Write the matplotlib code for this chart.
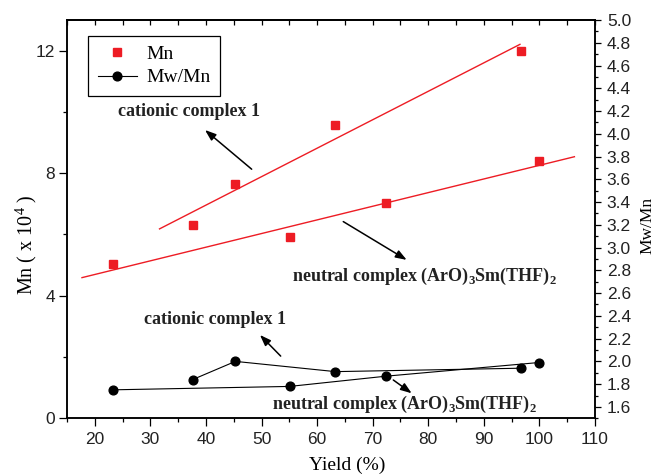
import numpy as np
import matplotlib
matplotlib.use("Agg")
import matplotlib.pyplot as plt
from matplotlib.ticker import MultipleLocator, FormatStrFormatter

plt.rcParams['font.family'] = ['Liberation Serif', 'DejaVu Serif']
plt.rcParams['mathtext.fontset'] = 'custom'
plt.rcParams['mathtext.rm'] = 'Liberation Serif'
plt.rcParams['mathtext.bf'] = 'Liberation Serif:bold'

# data
cat_yield = [37.6, 45.3, 63.3, 96.6]
cat_mn = [6.31, 7.64, 9.58, 11.99]
cat_pdi = [1.84, 2.00, 1.91, 1.94]

neu_yield = [23.2, 55.05, 72.4, 99.9]
neu_mn = [5.04, 5.91, 7.02, 8.40]
neu_pdi = [1.75, 1.78, 1.87, 1.99]

# x extent of the linear fits
cat_fit_range = [31.65, 96.5]
neu_fit_range = [17.7, 106.3]

red = '#ed1c24'

fig = plt.figure(figsize=(6.56, 4.75), dpi=100)
ax = fig.add_axes([0.1021, 0.1194, 0.8049, 0.8385])
ax2 = ax.twinx()

# Mn + linear fits
for xs, ys, rng in [(cat_yield, cat_mn, cat_fit_range), (neu_yield, neu_mn, neu_fit_range)]:
    k, b = np.polyfit(xs, ys, 1)
    xr = np.array(rng)
    ax.plot(xr, k * xr + b, color=red, lw=1.0, zorder=2)
h_mn, = ax.plot(cat_yield + neu_yield, cat_mn + neu_mn, 's', color=red, ms=5.8,
                mec=red, ls='none', zorder=3, label='Mn')

# Mw/Mn
h_pdi, = ax2.plot(cat_yield, cat_pdi, '-o', color='black', ms=6.3, lw=0.8, label='Mw/Mn')
ax2.plot(neu_yield, neu_pdi, '-o', color='black', ms=6.3, lw=0.8)

ax.set_xlim(15, 110)
ax.set_ylim(0, 13)
ax2.set_ylim(1.5, 5.0)

ax.xaxis.set_major_locator(MultipleLocator(10))
ax.xaxis.set_minor_locator(MultipleLocator(5))
ax.yaxis.set_major_locator(MultipleLocator(4))
ax.yaxis.set_minor_locator(MultipleLocator(2))
ax2.yaxis.set_major_locator(MultipleLocator(0.2))
ax2.yaxis.set_minor_locator(MultipleLocator(0.1))
ax2.yaxis.set_major_formatter(FormatStrFormatter('%.1f'))

ax.tick_params(axis='both', which='major', direction='out', length=5.8, width=0.9, pad=3)
ax.tick_params(axis='x', which='major', pad=4)
ax.tick_params(axis='both', which='minor', direction='out', length=3.0, width=0.9)
ax.tick_params(axis='y', right=False)
ax2.tick_params(axis='y', which='major', direction='out', length=4.5, width=0.9, pad=4)
ax2.tick_params(axis='y', which='minor', direction='out', length=2.5, width=0.9)

top = ax.secondary_xaxis('top')
top.xaxis.set_major_locator(MultipleLocator(10))
top.xaxis.set_minor_locator(MultipleLocator(5))
top.tick_params(which='both', direction='in', length=3.6, width=0.9, labeltop=False)

for a in (ax, ax2):
    for lab in a.get_xticklabels() + a.get_yticklabels():
        lab.set_fontfamily('Liberation Sans')
        lab.set_fontsize(12.5)
        lab.set_color('#222222')
    for s in a.spines.values():
        s.set_linewidth(1.1)
top.spines['top'].set_linewidth(1.1)

ax.set_xlabel('Yield (%)', fontsize=14)
ax.xaxis.set_label_coords(0.53, -0.097)
ax.set_ylabel(r'Mn ( x 10$^{4}$ )', fontsize=14.5)
ax.yaxis.set_label_coords(-0.053, 0.435)
ax2.set_ylabel('Mw/Mn', fontsize=12.5)
ax2.yaxis.set_label_coords(1.084, 0.483)

leg = ax.legend([h_mn, h_pdi], ['Mn', 'Mw/Mn'], loc='upper left',
                bbox_to_anchor=(0.0398, 0.9606), borderaxespad=0, fontsize=14,
                fancybox=False, edgecolor='black', framealpha=1, handlelength=2.0,
                handletextpad=0.5, borderpad=0.5, labelspacing=0.3)
leg.get_frame().set_linewidth(0.9)

bold = dict(fontsize=13, fontweight='bold', ha='center', va='center', color='#222222')
arrow = dict(arrowstyle='-|>,head_length=0.55,head_width=0.2', color='black', lw=1.1,
             mutation_scale=12, shrinkA=0, shrinkB=0)

ax.text(36.95, 10.0, 'cationic complex 1', **bold)
ax.annotate('', xy=(39.83, 9.41), xytext=(48.23, 8.13), arrowprops=arrow)

ax.text(79.4, 4.62, r'neutral complex (ArO)$_\mathbf{3}$Sm(THF)$_\mathbf{2}$', **bold)
ax.annotate('', xy=(76.12, 5.17), xytext=(64.71, 6.42), arrowprops=arrow)

ax.text(41.63, 3.21, 'cationic complex 1', **bold)
ax.annotate('', xy=(49.72, 2.72), xytext=(53.45, 2.03), arrowprops=arrow)

ax.text(75.63, 0.467, r'neutral complex (ArO)$_\mathbf{3}$Sm(THF)$_\mathbf{2}$', **bold)
ax.annotate('', xy=(77.02, 0.816), xytext=(73.71, 1.25), arrowprops=arrow)

fig.savefig('out.png', dpi=100)
